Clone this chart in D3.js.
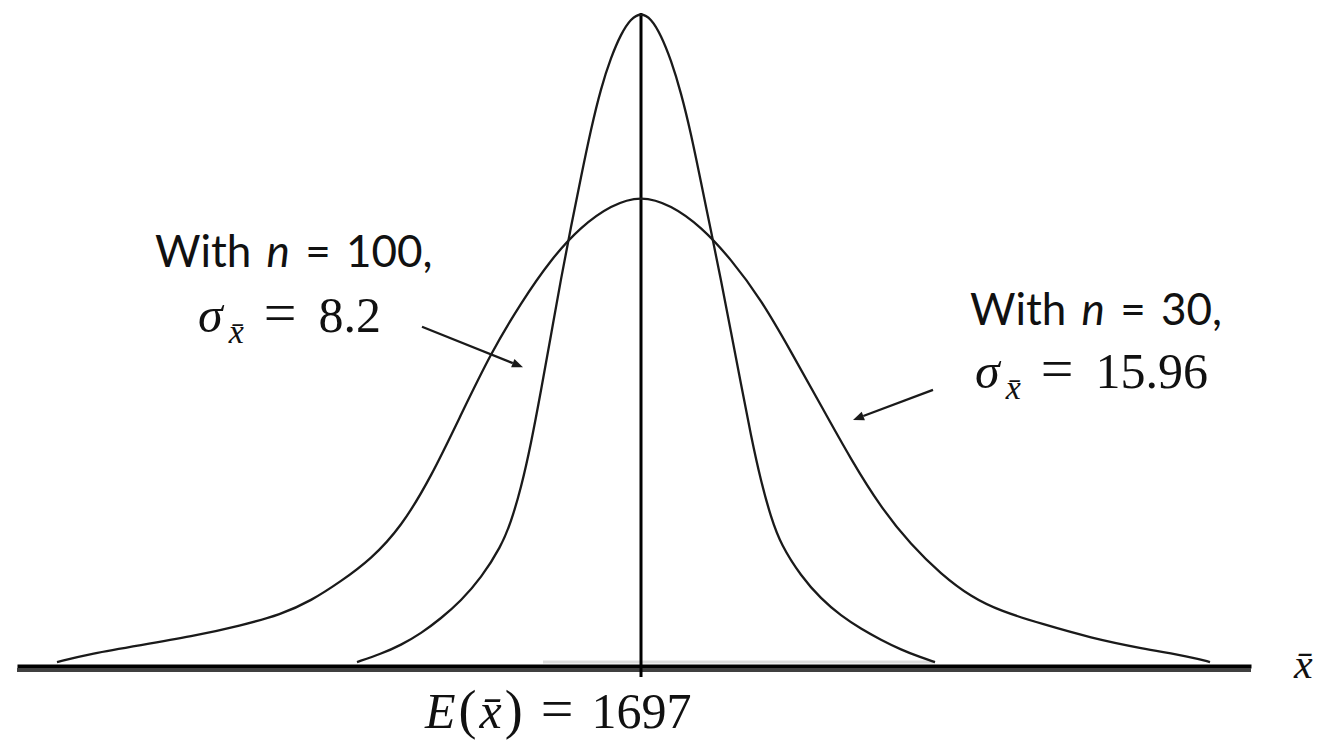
<!DOCTYPE html>
<html>
<head>
<meta charset="utf-8">
<script src="https://cdn.jsdelivr.net/npm/d3@7"></script>
<style>
  html, body { margin: 0; padding: 0; background: #fff; }
  svg { display: block; }
  .lbl { font-family: Lato, "Open Sans", sans-serif; fill: #111; word-spacing: 4px; }
  .math { font-family: "Liberation Serif", "DejaVu Serif", serif; fill: #111; }
</style>
</head>
<body>
<svg id="chart" width="1317" height="740"></svg>
<script>
// Sampling distribution of the sample mean, two sample sizes.
const mean = 1697;

// n = 100 (sigma = 8.2): sample mean values and relative heights
const narrowX = [1668.6, 1671, 1673, 1675, 1677, 1679, 1681, 1683, 1684, 1685,
                 1686, 1687, 1688, 1689, 1690, 1691, 1692, 1693, 1694, 1695,
                 1696, 1697, 1698, 1699, 1700, 1701, 1702, 1703, 1704, 1705,
                 1706, 1707, 1708, 1709, 1710, 1711, 1713, 1715, 1717, 1719,
                 1721, 1723, 1725, 1726.4];
const narrowY = [0.003, 0.0155, 0.029, 0.047, 0.070, 0.097, 0.132, 0.180, 0.218, 0.270,
                 0.338, 0.420, 0.505, 0.592, 0.672, 0.748, 0.822, 0.885, 0.932, 0.968,
                 0.992, 1.000, 0.992, 0.966, 0.928, 0.878, 0.815, 0.740, 0.665, 0.590,
                 0.510, 0.430, 0.350, 0.280, 0.225, 0.183, 0.135, 0.100, 0.074, 0.054,
                 0.037, 0.022, 0.010, 0.003];

// n = 30 (sigma = 15.96)
const wideX = [1638.6, 1642, 1647, 1652, 1657, 1661, 1664, 1667, 1670, 1673,
               1676, 1679, 1682, 1685, 1688, 1691, 1694, 1697, 1700, 1703,
               1706, 1709, 1712, 1715, 1718, 1721, 1724, 1727, 1730, 1733,
               1737, 1742, 1747, 1752, 1753.9];
const wideY = [0.003, 0.016, 0.029, 0.042, 0.059, 0.076, 0.097, 0.127, 0.161, 0.210,
               0.287, 0.383, 0.478, 0.555, 0.622, 0.672, 0.705, 0.720, 0.705, 0.672,
               0.622, 0.560, 0.480, 0.397, 0.314, 0.240, 0.183, 0.138, 0.103, 0.081,
               0.062, 0.040, 0.024, 0.011, 0.003];

// Callout arrows: [fromX, fromY, toX, toY] in data units
const arrowNarrow = [1675.1, 0.518, 1685.2, 0.456];
const arrowWide   = [1726.2, 0.421, 1718.2, 0.375];

const svg = d3.select("#chart");

const x = d3.scaleLinear().domain([1634.6, 1758.0]).range([17, 1251]);
const y = d3.scaleLinear().domain([0, 1]).range([664, 13]);

// faint shading just above the axis under the narrow curve
svg.append("line")
  .attr("x1", x(1687.2)).attr("x2", x(1726.4))
  .attr("y1", y(0) - 2).attr("y2", y(0) - 2)
  .attr("stroke", "#dcdcdc").attr("stroke-width", 3);

// horizontal axis (no ticks)
const axis = d3.axisBottom(x).tickValues([]).tickSizeOuter(0);
const axisG = svg.append("g").attr("transform", `translate(0,${y(0) + 2})`).call(axis);
axisG.select(".domain").attr("stroke", "#000").attr("stroke-width", 4);
svg.append("line")
  .attr("x1", x.range()[0]).attr("x2", x.range()[1])
  .attr("y1", y(0) + 6).attr("y2", y(0) + 6)
  .attr("stroke", "#404040").attr("stroke-width", 4);

// vertical line at the mean
svg.append("line")
  .attr("x1", x(mean)).attr("x2", x(mean))
  .attr("y1", y(1)).attr("y2", y(0) + 13)
  .attr("stroke", "#000").attr("stroke-width", 3);

const line = d3.line()
  .x(d => x(d[0])).y(d => y(d[1]))
  .curve(d3.curveBasis);

svg.append("path")
  .datum(wideX.map((v, i) => [v, wideY[i]]))
  .attr("d", line).attr("fill", "none")
  .attr("stroke", "#1a1a1a").attr("stroke-width", 2.3);

svg.append("path")
  .datum(narrowX.map((v, i) => [v, narrowY[i]]))
  .attr("d", line).attr("fill", "none")
  .attr("stroke", "#1a1a1a").attr("stroke-width", 2.3);

// arrows
function arrow(a) {
  const x1 = x(a[0]), y1 = y(a[1]), x2 = x(a[2]), y2 = y(a[3]);
  const ang = Math.atan2(y2 - y1, x2 - x1);
  const len = 11, half = 4.5;
  const bx = x2 - len * Math.cos(ang), by = y2 - len * Math.sin(ang);
  svg.append("line")
    .attr("x1", x1).attr("y1", y1).attr("x2", bx).attr("y2", by)
    .attr("stroke", "#1a1a1a").attr("stroke-width", 2.3);
  svg.append("path")
    .attr("d", `M${x2},${y2}L${bx - half * Math.sin(ang)},${by + half * Math.cos(ang)}L${bx + half * Math.sin(ang)},${by - half * Math.cos(ang)}Z`)
    .attr("fill", "#1a1a1a");
}
arrow(arrowNarrow);
arrow(arrowWide);

// annotation labels
function nLabel(px, py, n) {
  const t = svg.append("text").attr("class", "lbl").attr("x", px).attr("y", py).attr("font-size", 44);
  t.append("tspan").text("With ");
  t.append("tspan").attr("font-style", "italic").text("n");
  t.append("tspan").text(" = " + n + ",");
}
function sigmaLabel(px, py, s) {
  const t = svg.append("text").attr("class", "math").attr("x", px).attr("y", py).attr("font-size", 50);
  t.append("tspan").attr("font-style", "italic").text("σ");
  t.append("tspan").attr("font-style", "italic").attr("font-size", 34).attr("dx", 6).attr("dy", 11).text("x\u0304");
  t.append("tspan").attr("font-size", 58).attr("dx", 20).attr("dy", -11).text("=");
  t.append("tspan").attr("dx", 22).text(s);
}
nLabel(155, 267, 100);
sigmaLabel(198, 332, "8.2");
nLabel(970, 325, 30);
sigmaLabel(975, 388, "15.96");

// mean label
const e = svg.append("text").attr("class", "math").attr("x", 425).attr("y", 728).attr("font-size", 50);
e.append("tspan").attr("font-style", "italic").text("E");
e.append("tspan").attr("font-size", 54).attr("dx", 3).text("(");
e.append("tspan").attr("font-style", "italic").attr("dx", 3).text("x\u0304");
e.append("tspan").attr("font-size", 54).attr("dx", 3).text(")");
e.append("tspan").attr("font-size", 58).attr("dx", 18).text("=");
e.append("tspan").attr("dx", 18).text(mean);

// axis variable label
svg.append("text").attr("class", "math").attr("x", 1294).attr("y", 678)
  .attr("font-size", 42).attr("font-style", "italic").text("x\u0304");
</script>
</body>
</html>
